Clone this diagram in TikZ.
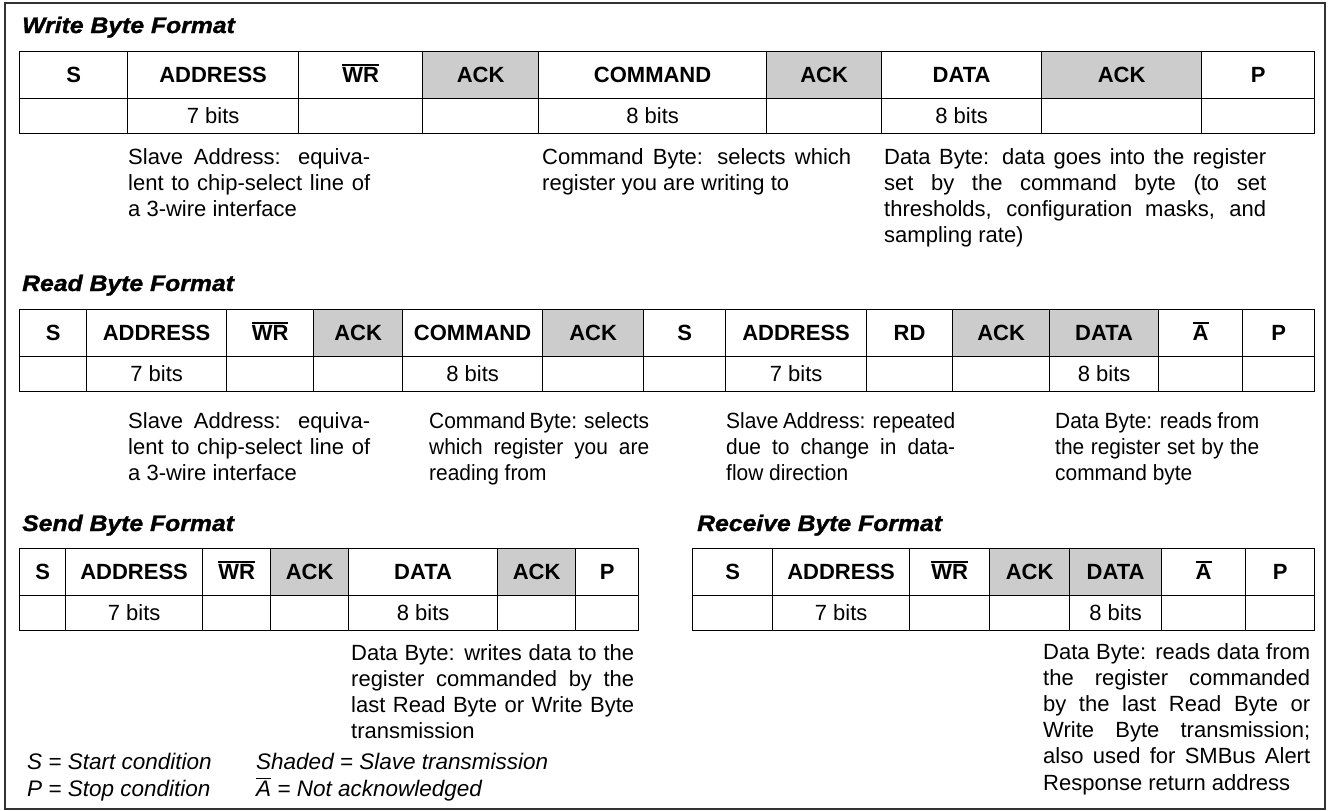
\documentclass[tikz,border=0pt]{standalone}
\usepackage{fontspec}
\setmainfont{Liberation Sans}
\newfontfamily\ttlfont{Liberation Sans}[FakeStretch=1.1, FakeBold=1.3]
\newfontfamily\condA{Liberation Sans}[FakeStretch=0.95]
\definecolor{shadegray}{RGB}{204,204,204}
\definecolor{framegray}{RGB}{50,50,50}
\newcommand\ovl[1]{\leavevmode\vphantom{#1}\smash{\vbox{\hrule height 1.4pt\kern 1.8pt\hbox{#1}}}}
\newcommand\jl[2]{\makebox[#1pt][s]{#2}}
\tikzset{
  hcell/.style={draw=black, line width=1.2pt, anchor=north west, minimum height=47pt, inner sep=0pt, font=\fontsize{22}{26}\selectfont\bfseries},
  bcell/.style={draw=black, line width=1.2pt, anchor=north west, minimum height=35pt, inner sep=0pt, font=\fontsize{22}{26}\selectfont},
  desc/.style={anchor=north west, inner sep=0pt, align=left, font=\fontsize{22}{26.2}\selectfont},
  cdesc/.style={desc, font=\fontsize{22}{26.2}\selectfont\condA},
  ttl/.style={anchor=base west, inner sep=0pt, font=\fontsize{22.5}{26}\selectfont\ttlfont\bfseries\itshape},
  lgd/.style={anchor=base west, inner sep=0pt, font=\fontsize{22.5}{26}\selectfont\itshape},
}
\begin{document}
\begin{tikzpicture}[x=1pt,y=-1pt]
\useasboundingbox (0,0) rectangle (1328,811);
\draw[framegray,line width=2pt] (5,3) rectangle (1325,809);

% titles
\node[ttl] (t1) at (22,33) {Write Byte Format};
\node[ttl] (t2) at (22,291) {Read Byte Format};
\node[ttl] (t3) at (22,531) {Send Byte Format};
\node[ttl] (t4) at (697,531) {Receive Byte Format};

% write byte table
\foreach \x/\w/\lab/\bt/\fc [count=\i] in {19/108/S//white, 127/171/ADDRESS/7 bits/white, 298/124/{\ovl{WR}}//white, 422/116/ACK//shadegray, 538/228/COMMAND/8 bits/white, 766/115/ACK//shadegray, 881/160/DATA/8 bits/white, 1041/160/ACK//shadegray, 1201/113/P//white}{
  \node[hcell,fill=\fc,minimum width=\w pt] (wh\i) at (\x,51) {\lab};
  \node[bcell,minimum width=\w pt] (wb\i) at (\x,98) {\bt};
}

% read byte table
\foreach \x/\w/\lab/\bt/\fc [count=\i] in {19/67/S//white, 86/140/ADDRESS/7 bits/white, 226/87/{\ovl{WR}}//white, 313/89/ACK//shadegray, 402/140/COMMAND/8 bits/white, 542/101/ACK//shadegray, 643/82/S//white, 725/141/ADDRESS/7 bits/white, 866/86/RD//white, 952/97/ACK//shadegray, 1049/109/DATA/8 bits/shadegray, 1158/84/{\ovl{A}}//white, 1242/72/P//white}{
  \node[hcell,fill=\fc,minimum width=\w pt] (rh\i) at (\x,309) {\lab};
  \node[bcell,minimum width=\w pt] (rb\i) at (\x,356) {\bt};
}

% send byte table
\foreach \x/\w/\lab/\bt/\fc [count=\i] in {19/46/S//white, 65/137/ADDRESS/7 bits/white, 202/68/{\ovl{WR}}//white, 270/78/ACK//shadegray, 348/149/DATA/8 bits/white, 497/78/ACK//shadegray, 575/63/P//white}{
  \node[hcell,fill=\fc,minimum width=\w pt] (sh\i) at (\x,548) {\lab};
  \node[bcell,minimum width=\w pt] (sb\i) at (\x,595) {\bt};
}

% receive byte table
\foreach \x/\w/\lab/\bt/\fc [count=\i] in {692/80/S//white, 772/137/ADDRESS/7 bits/white, 909/80/{\ovl{WR}}//white, 989/80/ACK//shadegray, 1069/92/DATA/8 bits/shadegray, 1161/84/{\ovl{A}}//white, 1245/69/P//white}{
  \node[hcell,fill=\fc,minimum width=\w pt] (ch\i) at (\x,548) {\lab};
  \node[bcell,minimum width=\w pt] (cb\i) at (\x,595) {\bt};
}

% write descriptions
\node[desc] (wd1) at (128,148) {\jl{242}{Slave Address: equiva-}\\\jl{242}{lent to chip-select line of}\\a 3-wire interface};
\node[desc] (wd2) at (542,148) {\jl{309}{Command Byte: selects which}\\register you are writing to};
\node[desc] (wd3) at (884,148) {\jl{382}{Data Byte: data goes into the register}\\\jl{382}{set by the command byte (to set}\\\jl{382}{thresholds, configuration masks, and}\\sampling rate)};

% read descriptions
\node[desc] (rd1) at (128,412) {\jl{242}{Slave Address: equiva-}\\\jl{242}{lent to chip-select line of}\\a 3-wire interface};
\node[cdesc] (rd2) at (429,412) {\jl{220}{Command Byte: selects}\\\jl{220}{which register you are}\\reading from};
\node[cdesc] (rd3) at (726,412) {\jl{229}{Slave Address: repeated}\\\jl{229}{due to change in data-}\\flow direction};
\node[cdesc] (rd4) at (1055,412) {\jl{204}{Data Byte: reads from}\\\jl{204}{the register set by the}\\command byte};

% send description
\node[desc] (sd1) at (351,644) {\jl{283}{Data Byte: writes data to the}\\\jl{283}{register commanded by the}\\\jl{283}{last Read Byte or Write Byte}\\transmission};

% receive description
\node[desc] (cd1) at (1043,643) {\jl{267}{Data Byte: reads data from}\\\jl{267}{the register commanded}\\\jl{267}{by the last Read Byte or}\\\jl{267}{Write Byte transmission;}\\\jl{267}{also used for SMBus Alert}\\Response return address};

% legend
\node[lgd] (l1) at (27,769.5) {S = Start condition};
\node[lgd] (l2) at (27,796.5) {P = Stop condition};
\node[lgd] (l3) at (256,769.5) {Shaded = Slave transmission};
\node[lgd] (l4) at (256,796.5) {\ovl{A} = Not acknowledged};
\end{tikzpicture}
\end{document}
